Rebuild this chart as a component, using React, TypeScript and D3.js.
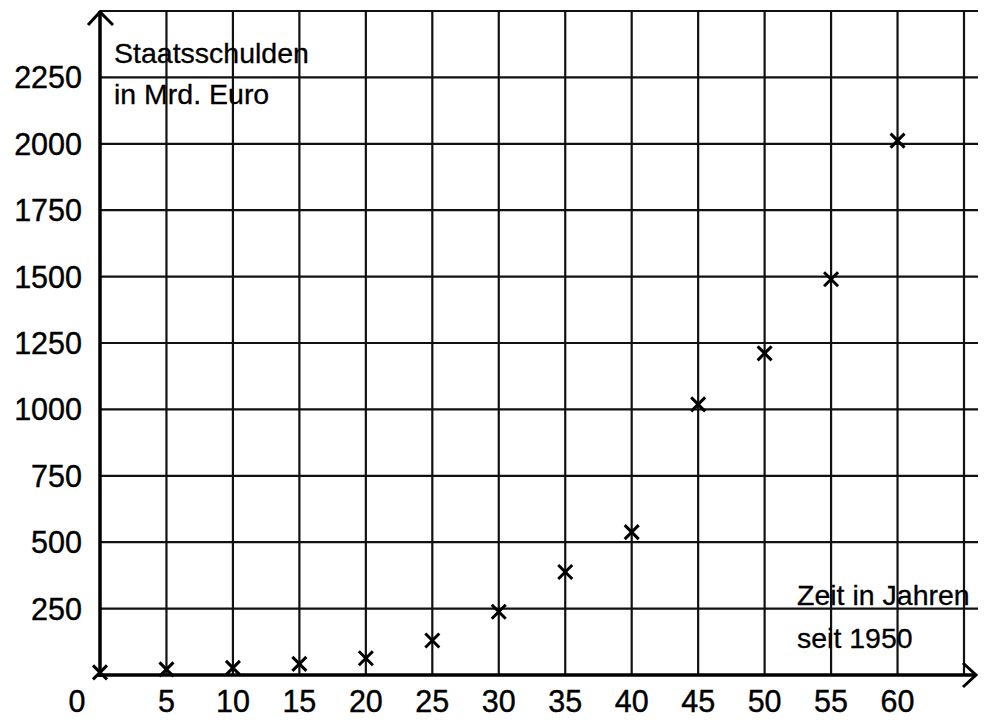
import React from "react";
import * as d3 from "d3";

const years = [0, 5, 10, 15, 20, 25, 30, 35, 40, 45, 50, 55, 60];
const debt = [10, 21, 27, 42, 63, 130, 238, 388, 538, 1019, 1211, 1490, 2012];
const xTicks = [0, 5, 10, 15, 20, 25, 30, 35, 40, 45, 50, 55, 60];
const yTicks = [250, 500, 750, 1000, 1250, 1500, 1750, 2000, 2250];
const xGrid = [5, 10, 15, 20, 25, 30, 35, 40, 45, 50, 55, 60, 65];
const yGrid = [250, 500, 750, 1000, 1250, 1500, 1750, 2000, 2250, 2500];
const yLabel = ["Staatsschulden", "in Mrd. Euro"];
const xLabel = ["Zeit in Jahren", "seit 1950"];

export default function App() {
  const W = 985, H = 722;
  const x = d3.scaleLinear().domain([0, 65]).range([100, 964]);
  const y = d3.scaleLinear().domain([0, 2500]).range([675, 11]);
  const font = "'Liberation Sans', Arial, sans-serif";
  const right = 978;
  const m = 7;
  return (
    <svg width={W} height={H} style={{ position: "absolute", left: 0, top: 0, background: "#fff" }} fontFamily={font}>
      <rect width={W} height={H} fill="#fff" />
      {yGrid.map((v) => (
        <line key={"h" + v} x1={x(0)} x2={right} y1={y(v)} y2={y(v)} stroke="#111" strokeWidth={2.2} />
      ))}
      {xGrid.map((v) => (
        <line key={"v" + v} x1={x(v)} x2={x(v)} y1={y(2500)} y2={y(0)} stroke="#111" strokeWidth={2.2} />
      ))}
      <line x1={x(0)} x2={x(0)} y1={y(0) + 2} y2={y(2500)} stroke="#000" strokeWidth={3.5} />
      <line x1={x(0) - 2} x2={976} y1={y(0)} y2={y(0)} stroke="#000" strokeWidth={3.5} />
      <polyline points={`${x(0) - 12},${y(2500) + 14} ${x(0)},${y(2500) + 1} ${x(0) + 13},${y(2500) + 14}`} fill="none" stroke="#000" strokeWidth={3} />
      <polyline points={`963,${y(0) - 12} 976,${y(0)} 963,${y(0) + 12}`} fill="none" stroke="#000" strokeWidth={3} />
      {yTicks.map((v) => (
        <text key={"yt" + v} x={82} y={y(v)} dy="0.36em" textAnchor="end" fontSize={30.5} fill="#000" stroke="#000" strokeWidth={0.4}>{v}</text>
      ))}
      {xTicks.map((v) => (
        <text key={"xt" + v} x={v === 0 ? 77 : x(v)} y={712} textAnchor="middle" fontSize={30.5} fill="#000" stroke="#000" strokeWidth={0.4}>{v}</text>
      ))}
      {years.map((yr, i) => {
        const cx = x(yr), cy = y(debt[i]);
        return (
          <g key={"m" + yr} stroke="#000" strokeWidth={3}>
            <line x1={cx - m} y1={cy - m} x2={cx + m} y2={cy + m} />
            <line x1={cx - m} y1={cy + m} x2={cx + m} y2={cy - m} />
          </g>
        );
      })}
      {yLabel.map((t, i) => (
        <text key={"yl" + i} x={114} y={63 + i * 41} fontSize={28.5} fill="#000" stroke="#000" strokeWidth={0.3}>{t}</text>
      ))}
      {xLabel.map((t, i) => (
        <text key={"xl" + i} x={797} y={605 + i * 43} fontSize={28.5} fill="#000" stroke="#000" strokeWidth={0.3}>{t}</text>
      ))}
    </svg>
  );
}
